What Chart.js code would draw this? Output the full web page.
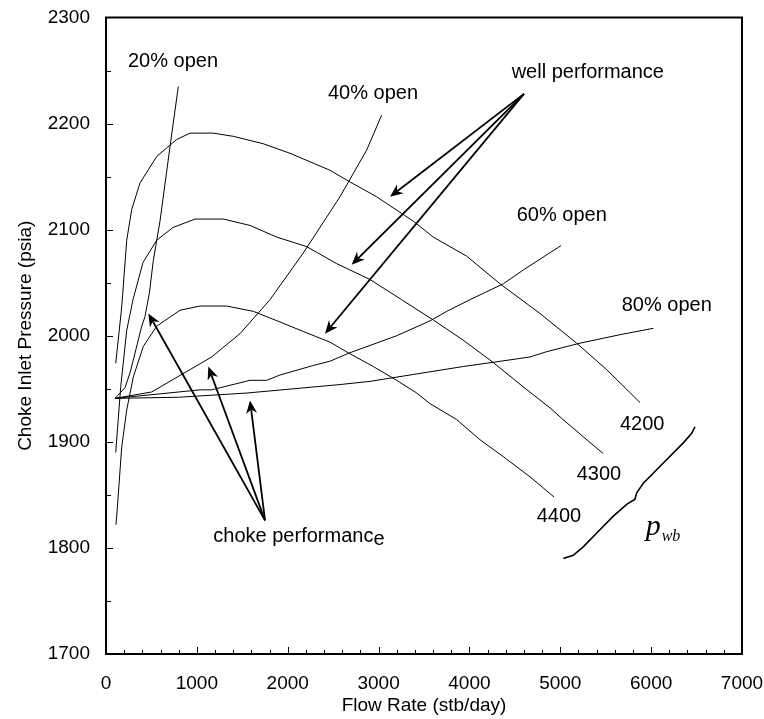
<!DOCTYPE html>
<html>
<head>
<meta charset="utf-8">
<script src="https://cdn.jsdelivr.net/npm/chart.js@4/dist/chart.umd.min.js"></script>
<style>
  html, body { margin: 0; padding: 0; background: #fff; }
  canvas { display: block; }
</style>
</head>
<body>
<canvas id="chart" width="764" height="719"></canvas>
<script>
// Axis ranges and tick steps
const xRange = [0, 7000];
const yRange = [1700, 2300];
const xMajorStep = 1000, xMinorStep = 200;
const yMajorStep = 100, yMinorStep = 50;

// Well performance curves at three wellbore pressures  [flow rate, pressure]
const well4200 = [[107,1974],[173,2027],[228,2090],[283,2119],[374,2144],[558,2169],[778,2185],[925,2191],[1181,2191],[1401,2188],[1731,2181],[2025,2172],[2465,2156],[2685,2145],[2979,2131],[3382,2108],[3602,2093],[3970,2075],[4336,2049],[4777,2021],[5180,1993],[5511,1968],[5878,1937]];
const well4300 = [[107,1890],[162,1952],[228,2005],[297,2034],[407,2069],[558,2090],[737,2102],[980,2110],[1145,2110],[1291,2110],[1585,2104],[1879,2093],[2209,2084],[2539,2068],[2906,2053],[3254,2034],[3599,2015],[3929,1996],[4259,1975],[4589,1952],[4887,1932],[5030,1921],[5250,1905],[5470,1889]];
const well4400 = [[110,1822],[124,1837],[173,1895],[228,1930],[300,1961],[411,1990],[558,2009],[814,2024],[1035,2028],[1328,2028],[1621,2023],[1915,2013],[2171,2004],[2465,1994],[2685,1983],[2942,1971],[3199,1958],[3420,1946],[3566,1936],[3860,1921],[4116,1902],[4373,1886],[4667,1867],[4931,1848]];

// Choke performance curves by opening
const choke20 = [[100,1941],[209,1951],[264,1965],[300,1977],[393,2009],[429,2018],[477,2040],[521,2071],[594,2108],[668,2155],[704,2178],[796,2235]];
const choke40 = [[100,1941],[503,1947],[1163,1980],[1475,2002],[1805,2034],[2171,2078],[2575,2131],[2869,2175],[3034,2208]];
const choke60 = [[100,1941],[1035,1949],[1163,1949],[1585,1958],[1769,1958],[1915,1963],[2282,1972],[2465,1976],[2685,1984],[3199,2000],[3566,2014],[3750,2023],[4006,2034],[4373,2049],[4593,2062],[5008,2085]];
const choke80 = [[100,1941],[796,1942],[1549,1946],[2575,1954],[2906,1957],[3566,1966],[3932,1971],[4263,1975],[4667,1980],[4850,1985],[5217,1993],[5657,2001],[6024,2007]];

// Brace grouping the well curves (p_wb)
const pwbBrace = [[5033,1790],[5143,1793],[5253,1801],[5401,1814],[5584,1830],[5731,1841],[5822,1846],[5841,1852],[5914,1861],[6134,1880],[6354,1899],[6446,1908],[6482,1914]];

// Annotation text, placed in data units: [text, x, y]
const labels = [
  ['20% open', 242, 2253],
  ['40% open', 2443, 2223],
  ['well performance', 4465, 2243],
  ['60% open', 4520, 2108],
  ['80% open', 5676, 2023],
  ['4200', 5657, 1911],
  ['4300', 5181, 1864],
  ['4400', 4740, 1824]
];
const chokeLabel = ['choke performanc', 'e', 1181, 1806];
const pwbLabel = ['p', 'wb', 5940, 1812];

// Leader arrows: tail point and head points, in data units
const wellArrowTail = [4600, 2228];
const wellArrowHeads = [[3126, 2131], [2704, 2067], [2410, 2002]];
const chokeArrowTail = [1750, 1826];
const chokeArrowHeads = [[466, 2021], [1126, 1971], [1585, 1939]];

const FONT = "'Liberation Sans', Arial, sans-serif";

const toXY = arr => arr.map(p => ({ x: p[0], y: p[1] }));
const line = (label, pts, width) => ({
  label, data: toXY(pts), showLine: true, borderColor: '#000',
  borderWidth: width || 1, pointRadius: 0, tension: 0, fill: false
});

// Frame, inward tick marks, arrows and annotation text
const decorations = {
  id: 'decorations',
  afterDraw(chart) {
    const { ctx, chartArea: a, scales: { x, y } } = chart;
    ctx.save();
    ctx.strokeStyle = '#000';
    ctx.lineWidth = 2;
    ctx.strokeRect(a.left, a.top, a.right - a.left, a.bottom - a.top);

    // tick marks pointing into the plot
    ctx.lineWidth = 1;
    ctx.beginPath();
    for (let v = xRange[0] + xMinorStep; v < xRange[1]; v += xMinorStep) {
      const px = Math.round(x.getPixelForValue(v)) + 0.5;
      const len = (v % xMajorStep === 0) ? 7 : 4;
      ctx.moveTo(px, a.bottom); ctx.lineTo(px, a.bottom - len);
    }
    for (let v = yRange[0] + yMinorStep; v < yRange[1]; v += yMinorStep) {
      const py = Math.round(y.getPixelForValue(v)) + 0.5;
      const len = (v % yMajorStep === 0) ? 7 : 5;
      ctx.moveTo(a.left, py); ctx.lineTo(a.left + len, py);
    }
    ctx.stroke();

    // arrows
    const arrow = (t, h) => {
      const x0 = x.getPixelForValue(t[0]), y0 = y.getPixelForValue(t[1]);
      const x1 = x.getPixelForValue(h[0]), y1 = y.getPixelForValue(h[1]);
      const ang = Math.atan2(y1 - y0, x1 - x0);
      const L = 13, W = 5.5, notch = 9;
      ctx.lineWidth = 1.8;
      ctx.beginPath();
      ctx.moveTo(x0, y0);
      ctx.lineTo(x1 - Math.cos(ang) * notch, y1 - Math.sin(ang) * notch);
      ctx.stroke();
      ctx.save();
      ctx.translate(x1, y1);
      ctx.rotate(ang);
      ctx.beginPath();
      ctx.moveTo(0, 0);
      ctx.lineTo(-L, -W);
      ctx.lineTo(-notch, 0);
      ctx.lineTo(-L, W);
      ctx.closePath();
      ctx.fillStyle = '#000';
      ctx.fill();
      ctx.restore();
    };
    wellArrowHeads.forEach(h => arrow(wellArrowTail, h));
    chokeArrowHeads.forEach(h => arrow(chokeArrowTail, h));

    // annotation text
    ctx.fillStyle = '#000';
    ctx.textBaseline = 'alphabetic';
    ctx.textAlign = 'left';
    ctx.font = '20px ' + FONT;
    labels.forEach(([t, vx, vy]) => {
      ctx.fillText(t, x.getPixelForValue(vx), y.getPixelForValue(vy));
    });
    const cx = x.getPixelForValue(chokeLabel[2]), cy = y.getPixelForValue(chokeLabel[3]);
    ctx.fillText(chokeLabel[0], cx, cy);
    ctx.fillText(chokeLabel[1], cx + ctx.measureText(chokeLabel[0]).width, cy + 3);

    const px = x.getPixelForValue(pwbLabel[2]), py = y.getPixelForValue(pwbLabel[3]);
    ctx.font = "italic 30px 'Liberation Serif', 'Times New Roman', serif";
    ctx.fillText(pwbLabel[0], px, py);
    const pw = ctx.measureText(pwbLabel[0]).width;
    ctx.font = "italic 16px 'Liberation Serif', 'Times New Roman', serif";
    ctx.fillText(pwbLabel[1], px + pw + 1, py + 6);
    ctx.restore();
  }
};

new Chart(document.getElementById('chart'), {
  type: 'scatter',
  data: {
    datasets: [
      line('4200', well4200), line('4300', well4300), line('4400', well4400),
      line('20% open', choke20), line('40% open', choke40),
      line('60% open', choke60), line('80% open', choke80),
      line('p_wb', pwbBrace, 1.6)
    ]
  },
  options: {
    responsive: false,
    animation: false,
    events: [],
    layout: { padding: { left: 0, right: 22, top: 17.5, bottom: 0 } },
    plugins: { legend: { display: false }, tooltip: { enabled: false } },
    scales: {
      x: {
        type: 'linear', min: xRange[0], max: xRange[1],
        grid: { display: false, drawTicks: false },
        border: { display: false },
        ticks: { stepSize: xMajorStep, color: '#000', padding: 18, maxRotation: 0,
                 font: { family: FONT, size: 19 }, callback: v => String(v) },
        title: { display: true, text: 'Flow Rate (stb/day)', color: '#000',
                 font: { family: FONT, size: 19 }, padding: { top: 0, bottom: 2 } },
        afterFit: s => { s.height = 65; s.paddingLeft = 0; s.paddingRight = 0; }
      },
      y: {
        type: 'linear', min: yRange[0], max: yRange[1],
        grid: { display: false, drawTicks: false },
        border: { display: false },
        ticks: { stepSize: yMajorStep, color: '#000', padding: 16,
                 font: { family: FONT, size: 19 }, callback: v => String(v) },
        title: { display: true, text: 'Choke Inlet Pressure (psia)', color: '#000',
                 font: { family: FONT, size: 19 }, padding: { top: 14, bottom: 0 } },
        afterFit: s => { s.width = 106; s.paddingTop = 0; s.paddingBottom = 0; }
      }
    }
  },
  plugins: [decorations]
});
</script>
</body>
</html>
